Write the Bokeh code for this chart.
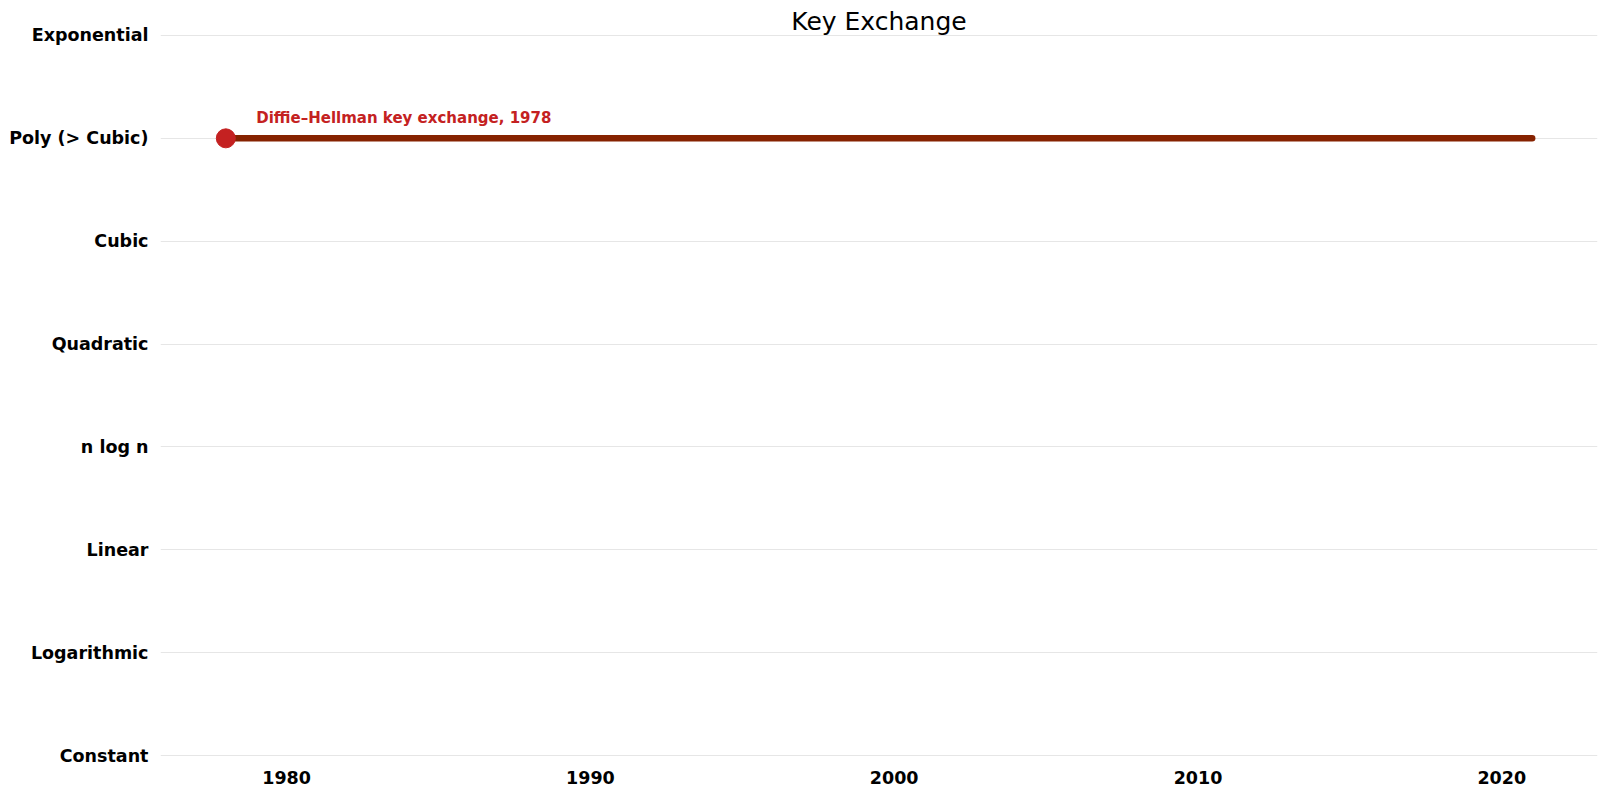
from bokeh.plotting import figure
from bokeh.models import Range1d, FixedTicker, Label, ColumnDataSource
from bokeh.embed import file_html
from bokeh.resources import INLINE

title_text = "Key Exchange"
categories = ["Constant", "Logarithmic", "Linear", "n log n", "Quadratic",
              "Cubic", "Poly (> Cubic)", "Exponential"]
event_years = [1978]
event_levels = ["Poly (> Cubic)"]
event_labels = ["Diffie\u2013Hellman key exchange, 1978"]
end_year = 2021
x_ticks = [1980, 1990, 2000, 2010, 2020]

FONT = "DejaVu Sans"
x0, x1 = 1975.85, 2023.15

p = figure(width=1605, height=795, output_backend="svg", toolbar_location=None,
           x_range=Range1d(x0, x1), y_range=Range1d(-0.0097, 7.340),
           min_border_left=160, min_border_right=8, min_border_top=0,
           min_border_bottom=39)
p.outline_line_color = None
p.background_fill_color = "white"
p.border_fill_color = "white"

# axes
p.yaxis.ticker = FixedTicker(ticks=list(range(len(categories))))
p.yaxis.major_label_overrides = {i: c for i, c in enumerate(categories)}
p.xaxis.ticker = FixedTicker(ticks=x_ticks)
for ax in (p.xaxis, p.yaxis):
    ax.axis_line_color = None
    ax.major_tick_line_color = None
    ax.minor_tick_line_color = None
    ax.major_tick_in = 0
    ax.major_tick_out = 0
    ax.major_label_text_font = FONT
    ax.major_label_text_font_style = "bold"
    ax.major_label_text_font_size = "17.5px"
    ax.major_label_text_color = "black"
p.yaxis.major_label_standoff = 12
p.xaxis.major_label_standoff = 14

p.xgrid.grid_line_color = None
p.ygrid.grid_line_color = "#e6e6e6"
p.ygrid.grid_line_width = 1

# lines from event year to end year
ys = [categories.index(l) for l in event_levels]
src = ColumnDataSource(dict(x0=event_years, x1=[end_year] * len(event_years), y=ys,
                            label=event_labels))
p.segment(x0="x0", y0="y", x1="x1", y1="y", source=src, line_color="#862200",
          line_width=6.5, line_cap="round")
p.scatter(x="x0", y="y", source=src, size=19, fill_color="#c42121",
          line_color="#c42121")

for yr, yv, lab in zip(event_years, ys, event_labels):
    p.add_layout(Label(x=yr + 1, y=yv, y_offset=20, text=lab, text_font=FONT,
                       text_font_style="bold", text_font_size="15px",
                       text_color="#c42121", text_baseline="middle",
                       text_align="left"))

p.add_layout(Label(x=(x0 + x1) / 2, y=len(categories) - 1, y_offset=14, text=title_text,
                   text_font=FONT, text_font_size="25px", text_color="black",
                   text_align="center", text_baseline="middle"))

open("out.html", "w").write(file_html(p, INLINE))
